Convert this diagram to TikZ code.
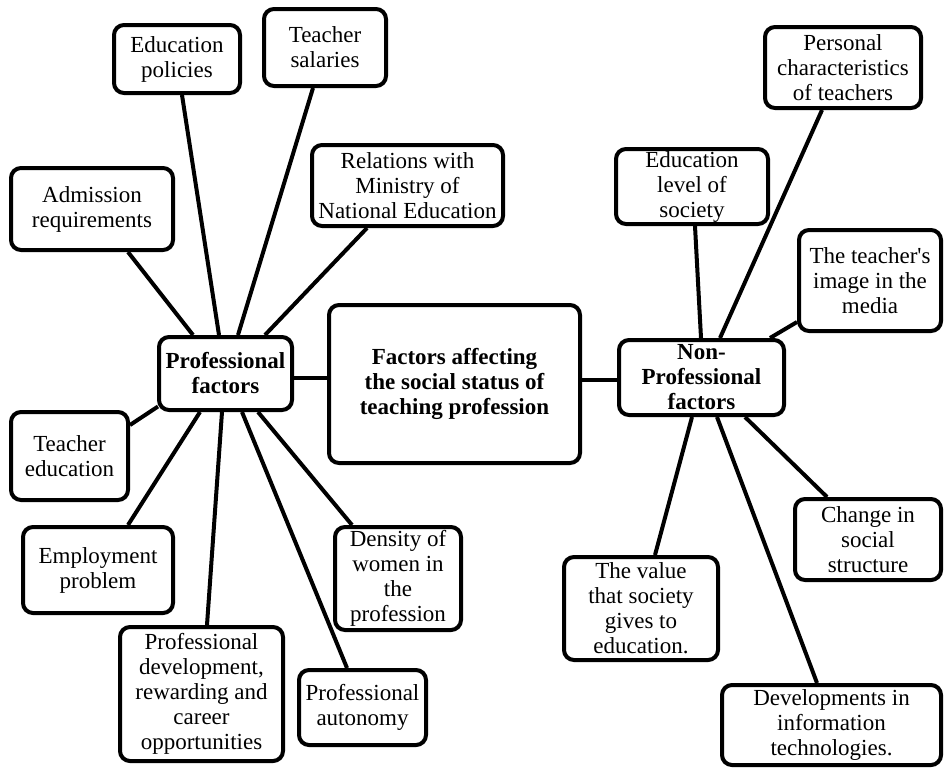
\documentclass[tikz,border=0pt]{standalone}
\usepackage{fontspec}
\setmainfont{Liberation Serif}
\begin{document}
\begin{tikzpicture}[x=1pt,y=-1pt,
  box/.style={draw,line width=4pt,rounded corners=10pt,align=center,inner sep=0pt,
    font=\fontsize{23}{25}\selectfont},
  hub/.style={box,font=\fontsize{23}{25}\selectfont\bfseries},
  link/.style={line width=4pt}]
\useasboundingbox (0,0) rectangle (944,769);
% professional side
\node[box,minimum width=126pt,minimum height=68pt] (edpol) at (177,59) {Education\\policies};
\node[box,minimum width=122pt,minimum height=77pt] (tsal) at (325,47.5) {Teacher\\salaries};
\node[box,minimum width=191pt,minimum height=81pt] (rel) at (407.5,185.5) {Relations with\\Ministry of\\National Education};
\node[box,minimum width=162pt,minimum height=82pt] (adm) at (92,209) {Admission\\requirements};
\node[hub,minimum width=133pt,minimum height=73pt] (pf) at (225.5,373.5) {Professional\\factors};
\node[hub,minimum width=251pt,minimum height=158pt] (central) at (454.5,384) {Factors affecting\\the social status of\\teaching profession};
\node[box,minimum width=117pt,minimum height=88pt] (ted) at (69.5,456) {Teacher\\education};
\node[box,minimum width=150pt,minimum height=86pt] (emp) at (98,570) {Employment\\problem};
\node[box,minimum width=163pt,minimum height=134pt] (pdev) at (201.5,694) {Professional\\development,\\rewarding and\\career\\opportunities};
\node[box,minimum width=127pt,minimum height=75pt] (paut) at (362.5,707.5) {Professional\\autonomy};
\node[box,minimum width=126pt,minimum height=103pt] (dens) at (398,578.5) {Density of\\women in\\the\\profession};
% non-professional side
\node[box,minimum width=156pt,minimum height=81pt] (pers) at (843,67.5) {Personal\\characteristics\\of teachers};
\node[box,minimum width=152pt,minimum height=75pt] (edlev) at (692,186.5) {Education\\level of\\society};
\node[box,minimum width=142pt,minimum height=101pt] (img) at (870,280.5) {The teacher\textquotesingle s\\image in the\\media};
\node[hub,minimum width=165pt,minimum height=75pt] (npf) at (701.5,377.5) {Non-\\Professional\\factors};
\node[box,minimum width=146pt,minimum height=81pt] (chg) at (868,539.5) {Change in\\social\\structure};
\node[box,minimum width=154pt,minimum height=103pt] (val) at (641,608.5) {The value\\that society\\gives to\\education.};
\node[box,minimum width=219pt,minimum height=80pt] (dev) at (831.5,725) {Developments in\\information\\technologies.};
% connectors
\draw[link] ([xshift=36pt]adm.south) -- ([xshift=-32.5pt]pf.north);
\draw[link] ([xshift=5pt]edpol.south) -- ([xshift=-6.5pt]pf.north);
\draw[link] ([xshift=-12pt]tsal.south) -- ([xshift=12.5pt]pf.north);
\draw[link] ([xshift=-40.5pt]rel.south) -- ([xshift=39.5pt]pf.north);
\draw[link] ([yshift=31pt]ted.east) -- ([xshift=1pt,yshift=-33pt]pf.west);
\draw[link] ([xshift=30pt]emp.north) -- ([xshift=-25.5pt]pf.south);
\draw[link] ([xshift=5.5pt]pdev.north) -- ([xshift=-3.5pt]pf.south);
\draw[link] ([xshift=-15.5pt]paut.north) -- ([xshift=16.5pt]pf.south);
\draw[link] ([xshift=-46pt]dens.north) -- ([xshift=32.5pt]pf.south);
\draw[link] ([yshift=-4.5pt]pf.east) -- ([yshift=6pt]central.west);
\draw[link] ([yshift=4pt]central.east) -- ([yshift=-2.5pt]npf.west);
\draw[link] ([xshift=3pt]edlev.south) -- ([xshift=-0.5pt]npf.north);
\draw[link] ([xshift=-21pt]pers.south) -- ([xshift=18.5pt]npf.north);
\draw[link] ([yshift=-41.5pt]img.west) -- ([xshift=68.5pt]npf.north);
\draw[link] ([xshift=14pt]val.north) -- ([xshift=-9.5pt]npf.south);
\draw[link] ([xshift=-14.5pt]dev.north) -- ([xshift=15.5pt]npf.south);
\draw[link] ([xshift=-41pt]chg.north) -- ([xshift=43.5pt]npf.south);
\end{tikzpicture}
\end{document}
